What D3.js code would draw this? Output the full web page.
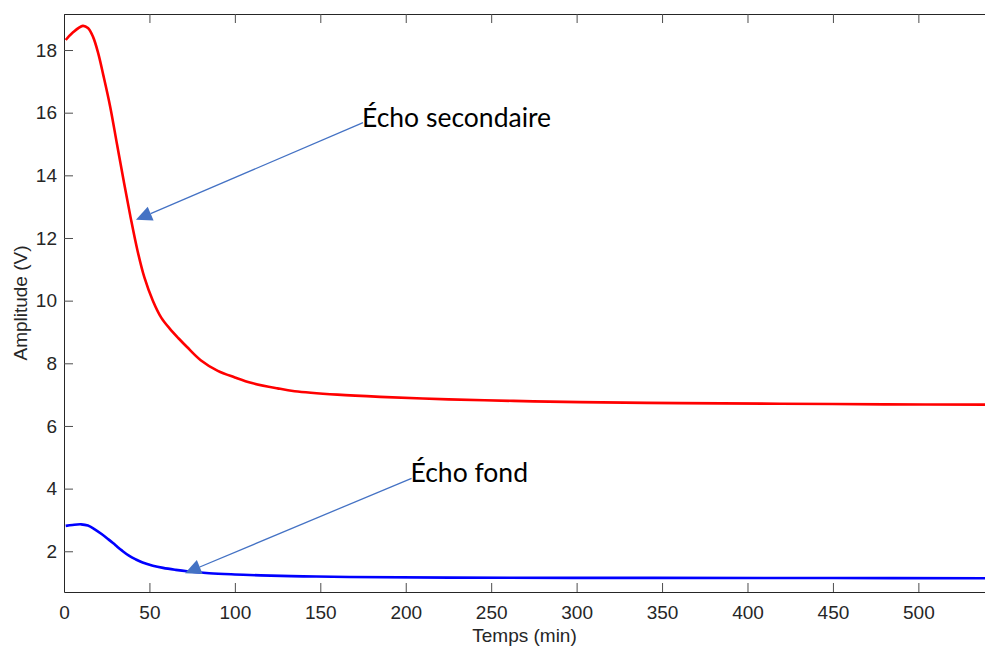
<!DOCTYPE html>
<html>
<head>
<meta charset="utf-8">
<script src="https://cdn.jsdelivr.net/npm/d3@7"></script>
<style>
  html, body { margin: 0; padding: 0; background: #fff; }
  svg { display: block; }
</style>
</head>
<body>
<div id="chart"></div>
<script>
// time (min) / amplitude (V)
const secondaryEcho = [
  [1, 18.32], [5, 18.55], [11, 18.77], [14, 18.7], [17, 18.42], [20, 17.9],
  [23, 17.2], [27, 16.2], [31, 15.0], [35, 13.8], [39, 12.65], [43, 11.6],
  [47, 10.75], [52, 10.0], [57, 9.45], [62, 9.1], [67, 8.8], [72, 8.52], [80, 8.1], [90, 7.76],
  [100, 7.55], [110, 7.37], [125, 7.2], [135, 7.11], [160, 7.0], [185, 6.93],
  [225, 6.85], [263, 6.8], [302, 6.76], [360, 6.73], [419, 6.71], [480, 6.69],
  [539, 6.68],
];

const bottomEcho = [
  [1, 2.81], [5, 2.84], [10, 2.86], [14, 2.82], [18, 2.7], [22, 2.55],
  [26, 2.38], [30, 2.2], [34, 2.02], [38, 1.86], [42, 1.74], [46, 1.64],
  [52, 1.54], [58, 1.47], [65, 1.41], [72, 1.36], [85, 1.3], [100, 1.26],
  [115, 1.23], [140, 1.2], [167, 1.18], [226, 1.16], [343, 1.15], [450, 1.145],
  [539, 1.14],
];

const xTicks = [0, 50, 100, 150, 200, 250, 300, 350, 400, 450, 500];
const yTicks = [2, 4, 6, 8, 10, 12, 14, 16, 18];

// label text, text anchor point, arrow tip (data units)
const annotations = [
  { label: "Écho secondaire", from: [175, 15.68], to: [42.1, 12.58] },
  { label: "Écho fond", from: [203.4, 4.33], to: [70.8, 1.3] },
];

const width = 985;
const height = 648;
const margin = { top: 14, right: 0, bottom: 56, left: 64 };

const svg = d3.select("#chart")
  .append("svg")
  .attr("width", width)
  .attr("height", height);

const x = d3.scaleLinear()
  .domain([0, 539])
  .range([margin.left, width - margin.right]);

const y = d3.scaleLinear()
  .domain([0.7, 19.15])
  .range([height - margin.bottom, margin.top]);

const axisColor = "#262626";
const font = "'Liberation Sans', Arial, Helvetica, sans-serif";

const styleAxis = (g) => {
  g.select(".domain").attr("stroke", axisColor);
  g.selectAll(".tick line").attr("stroke", "#4d4d4d");
  g.selectAll(".tick text")
    .attr("fill", axisColor)
    .attr("font-family", font)
    .attr("font-size", 19);
};

// bottom axis, ticks inward
svg.append("g")
  .attr("transform", `translate(0, ${y.range()[0]})`)
  .call(d3.axisBottom(x).tickValues(xTicks).tickSizeInner(-9).tickSizeOuter(0).tickPadding(14))
  .call(styleAxis);

// top axis mirror
svg.append("g")
  .attr("transform", `translate(0, ${y.range()[1]})`)
  .call(d3.axisTop(x).tickValues(xTicks).tickSizeInner(-9).tickSizeOuter(0).tickFormat(""))
  .call(styleAxis);

// left axis
svg.append("g")
  .attr("transform", `translate(${x.range()[0]}, 0)`)
  .call(d3.axisLeft(y).tickValues(yTicks).tickSizeInner(-9).tickSizeOuter(0).tickPadding(7))
  .call(styleAxis);

svg.append("text")
  .attr("x", (x.range()[0] + x.range()[1]) / 2)
  .attr("y", 642)
  .attr("text-anchor", "middle")
  .attr("fill", axisColor)
  .attr("font-family", font)
  .attr("font-size", 19)
  .text("Temps (min)");

svg.append("text")
  .attr("transform", `translate(27, ${(y.range()[0] + y.range()[1]) / 2}) rotate(-90)`)
  .attr("text-anchor", "middle")
  .attr("fill", axisColor)
  .attr("font-family", font)
  .attr("font-size", 19)
  .text("Amplitude (V)");

const line = d3.line()
  .x((d) => x(d[0]))
  .y((d) => y(d[1]))
  .curve(d3.curveCatmullRom.alpha(0.5));

[[secondaryEcho, "#ff0000"], [bottomEcho, "#0000ff"]].forEach(([data, color]) => {
  svg.append("path")
    .datum(data)
    .attr("fill", "none")
    .attr("stroke", color)
    .attr("stroke-width", 2.6)
    .attr("stroke-linejoin", "round")
    .attr("d", line);
});

// annotation arrows
const arrowColor = "#4472c4";
annotations.forEach((a) => {
  const x0 = x(a.from[0]), y0 = y(a.from[1]);
  const x1 = x(a.to[0]), y1 = y(a.to[1]);
  const angle = Math.atan2(y1 - y0, x1 - x0);
  const headLen = 16, headHalf = 7.5;
  const bx = x1 - headLen * Math.cos(angle);
  const by = y1 - headLen * Math.sin(angle);
  const px = -Math.sin(angle) * headHalf;
  const py = Math.cos(angle) * headHalf;

  svg.append("line")
    .attr("x1", x0).attr("y1", y0)
    .attr("x2", bx).attr("y2", by)
    .attr("stroke", arrowColor)
    .attr("stroke-width", 1.3);

  svg.append("path")
    .attr("d", `M${x1},${y1}L${bx + px},${by + py}L${bx - px},${by - py}Z`)
    .attr("fill", arrowColor);

  svg.append("text")
    .attr("x", x0 - 1)
    .attr("y", y0 + 4)
    .attr("fill", "#000")
    .attr("font-family", "Lato, 'Open Sans', sans-serif")
    .attr("font-size", 26.5)
    .text(a.label);
});
</script>
</body>
</html>
